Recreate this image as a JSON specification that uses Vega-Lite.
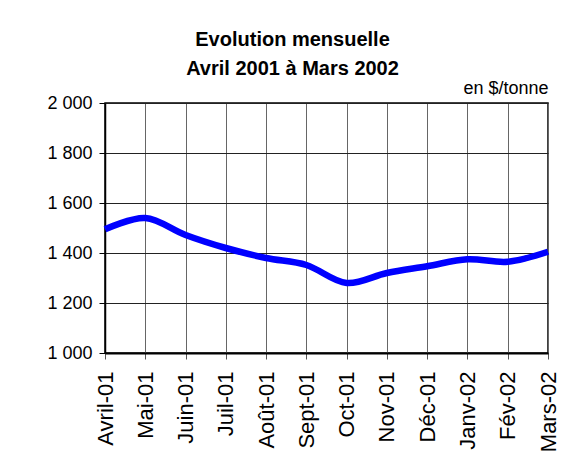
{
  "$schema": "https://vega.github.io/schema/vega-lite/v6.json",
  "width": 443,
  "height": 250,
  "autosize": "none",
  "padding": {"left": 105, "top": 103, "right": 29, "bottom": 118},
  "background": "white",
  "title": {
    "text": ["Evolution mensuelle", "Avril 2001 à Mars 2002"],
    "font": "Liberation Sans",
    "fontSize": 20,
    "fontWeight": "bold",
    "lineHeight": 29,
    "color": "black",
    "anchor": "middle",
    "frame": "group",
    "dx": -34,
    "offset": 0
  },
  "data": {
    "values": [
      {"mois": "Avril-01", "prix": 1495},
      {"mois": "Mai-01", "prix": 1540},
      {"mois": "Juin-01", "prix": 1472},
      {"mois": "Juil-01", "prix": 1420},
      {"mois": "Août-01", "prix": 1380},
      {"mois": "Sept-01", "prix": 1352},
      {"mois": "Oct-01", "prix": 1280},
      {"mois": "Nov-01", "prix": 1320},
      {"mois": "Déc-01", "prix": 1347},
      {"mois": "Janv-02", "prix": 1375},
      {"mois": "Fév-02", "prix": 1365},
      {"mois": "Mars-02", "prix": 1405}
    ]
  },
  "mark": {"type": "line", "interpolate": "catmull-rom", "color": "#0000FF", "strokeWidth": 6.5},
  "encoding": {
    "x": {
      "field": "mois",
      "type": "ordinal",
      "sort": null,
      "scale": {"type": "point", "padding": 0},
      "axis": {
        "title": null,
        "labelAngle": 270,
        "labelAlign": "right",
        "labelBaseline": "middle",
        "labelFont": "Liberation Sans",
        "labelFontSize": 22,
        "labelColor": "black",
        "labelPadding": 12,
        "tickSize": 6,
        "tickColor": "#555555",
        "domainColor": "black",
        "domainWidth": 2,
        "grid": true,
        "gridColor": "#666666",
        "gridWidth": 1,
        "gridOpacity": 1
      }
    },
    "y": {
      "field": "prix",
      "type": "quantitative",
      "scale": {"domain": [1000, 2000], "nice": false, "zero": false},
      "axis": {
        "values": [1000, 1200, 1400, 1600, 1800, 2000],
        "labelExpr": "replace(format(datum.value, ','), ',', ' ')",
        "labelFont": "Liberation Sans",
        "labelFontSize": 18,
        "labelColor": "black",
        "labelPadding": 7,
        "tickSize": 6,
        "tickColor": "black",
        "domainColor": "black",
        "domainWidth": 1.5,
        "grid": true,
        "gridColor": "#222222",
        "gridWidth": 1,
        "gridOpacity": 1,
        "title": "en $/tonne",
        "titleAngle": 0,
        "titleAlign": "right",
        "titleBaseline": "alphabetic",
        "titleX": 443,
        "titleY": -10,
        "titleFont": "Liberation Sans",
        "titleFontSize": 18,
        "titleFontWeight": "normal",
        "titleColor": "black"
      }
    }
  },
  "config": {
    "view": {"stroke": "black", "strokeWidth": 1.5}
  }
}
